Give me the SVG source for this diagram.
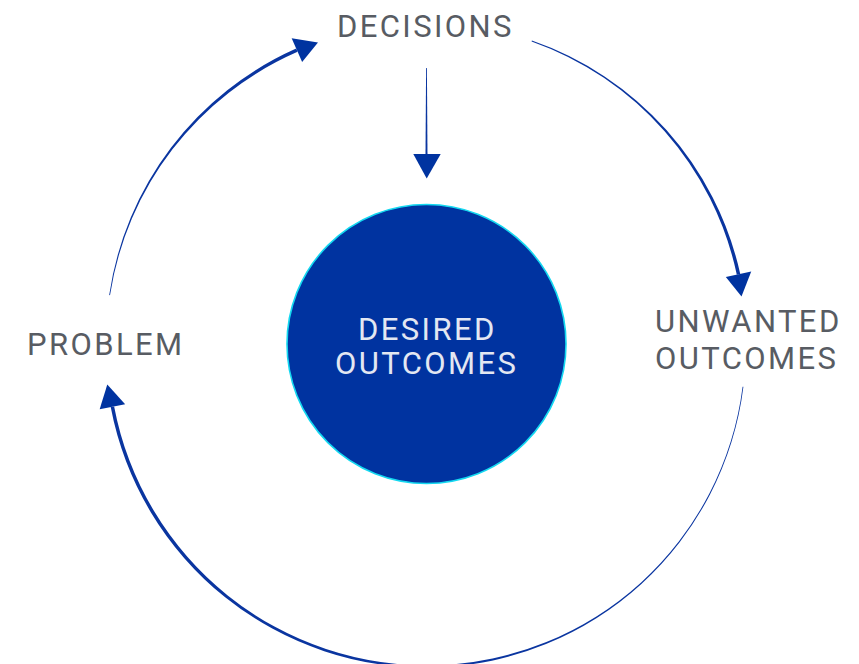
<svg xmlns="http://www.w3.org/2000/svg" width="859" height="664" viewBox="0 0 859 664">
<style>
.lbl{font-family:Roboto,"Liberation Sans",sans-serif;font-size:31px;letter-spacing:2.4px;fill:#585c63}
.inner{font-family:Roboto,"Liberation Sans",sans-serif;font-size:31px;letter-spacing:2.4px;fill:#e3e7f2}
.arc{fill:#0a35a0;stroke:none}
.head{fill:#0033a0;stroke:none}
</style>
<rect width="859" height="664" fill="#ffffff"/>
<g id="connectors">
<path class="arc" d="M 109.20,295.09 A 320.4 320.4 0 0 1 296.16,48.61 L 297.57,51.81 A 318.25 318.25 0 0 0 110.0,295.21 Z"/>
<polygon class="head" points="291.65,38.3 302.15,62.1 318,42.5"/>
<path class="arc" d="M 531.9,40.6 A 320.4 320.4 0 0 1 740.24,273.91 L 736.83,274.66 A 318.25 318.25 0 0 0 531.6,41.4 Z"/>
<polygon class="head" points="751.23,271.49 725.83,277.07 741.5,296.5"/>
<path class="arc" d="M 743.4,386.76 A 320.4 320.4 0 0 1 110.70,407.09 L 114.13,406.40 A 318.25 318.25 0 0 0 742.6,386.65 Z"/>
<polygon class="head" points="99.67,409.33 125.15,404.15 107.3,384.5"/>
<polygon class="arc" points="426.1,68 426.9,68 427.5,156 425.5,156"/>
<polygon class="head" points="413.3,154 440.7,154 426.7,178.5"/>
</g>
<g id="desired">
<circle cx="426.5" cy="344" r="139.5" fill="#0033a0" stroke="#14d8f0" stroke-width="1.6"/>
<text class="inner" x="358" y="340">DESIRED</text>
<text class="inner" x="335" y="374">OUTCOMES</text>
</g>
<g id="decisions">
<text class="lbl" x="337" y="37">DECISIONS</text>
</g>
<g id="unwanted">
<text class="lbl" x="655" y="332">UNWANTED</text>
<text class="lbl" x="655" y="369">OUTCOMES</text>
</g>
<g id="problem">
<text class="lbl" x="27" y="355">PROBLEM</text>
</g>
</svg>
